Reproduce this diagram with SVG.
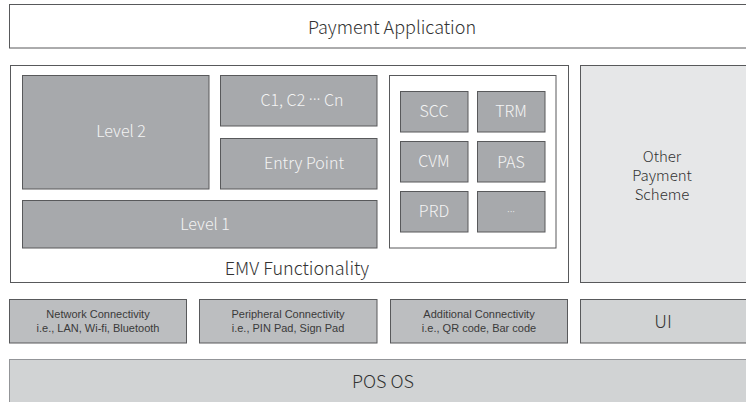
<svg xmlns="http://www.w3.org/2000/svg" width="746" height="402" viewBox="0 0 746 402">
<style>
text{font-family:"Noto Sans CJK KR","Noto Sans",sans-serif;font-weight:300;text-anchor:middle;dominant-baseline:central}
.dots{font-family:"Noto Sans","DejaVu Sans",sans-serif}
.white{fill:#ffffff;stroke:#58595b;stroke-width:1}
.dark{fill:#a7a9ac;stroke:#58595b;stroke-width:1}
.mid{fill:#bcbec0;stroke:#58595b;stroke-width:1}
.light{fill:#e6e7e8;stroke:#58595b;stroke-width:1}
.os{fill:#d1d3d4;stroke:#939598;stroke-width:1}
.tw{fill:#f4f4f4;font-size:16px}
.td{fill:#333333}
.l18{font-size:18px}
.l15{font-size:15px}
.l11{font-size:11px;font-family:"Liberation Sans",Arial,sans-serif;font-weight:400;fill:#3a3a3a}
</style>
<rect width="746" height="402" fill="#ffffff"/>
<g id="payment-application"><rect class="white" x="9.5" y="4.5" width="740" height="43.5"/><text class="td l18" x="392" y="26">Payment Application</text></g>
<g id="emv-functionality"><rect class="white" x="10.5" y="65.5" width="558" height="217"/><text class="td l18" x="297" y="267">EMV Functionality</text></g>
<g id="level2"><rect class="dark" x="22.5" y="75.5" width="186.5" height="113.5"/><text class="tw" x="121" y="130">Level 2</text></g>
<g id="c1c2cn"><rect class="dark" x="220.5" y="75.5" width="156.5" height="50.5"/><text class="tw" x="302" y="99">C1, C2 <tspan class="dots">···</tspan> Cn</text></g>
<g id="entry-point"><rect class="dark" x="220.5" y="138.5" width="156.5" height="50.5"/><text class="tw" x="304" y="162">Entry Point</text></g>
<g id="level1"><rect class="dark" x="22.5" y="200.5" width="354.5" height="47.5"/><text class="tw" x="205" y="223">Level 1</text></g>
<g id="kernel-box"><rect class="white" x="389.5" y="75.5" width="166.5" height="172.5"/></g>
<g id="scc"><rect class="dark" x="400.5" y="91.5" width="67.5" height="40.5"/><text class="tw" x="434" y="110">SCC</text></g>
<g id="trm"><rect class="dark" x="477.5" y="91.5" width="67.5" height="40.5"/><text class="tw" x="511" y="110">TRM</text></g>
<g id="cvm"><rect class="dark" x="400.5" y="141.5" width="67.5" height="40.5"/><text class="tw" x="434" y="160">CVM</text></g>
<g id="pas"><rect class="dark" x="477.5" y="141.5" width="67.5" height="40.5"/><text class="tw" x="511" y="161">PAS</text></g>
<g id="prd"><rect class="dark" x="400.5" y="191.5" width="67.5" height="40.5"/><text class="tw" x="434" y="210">PRD</text></g>
<g id="etc"><rect class="dark" x="477.5" y="191.5" width="67.5" height="40.5"/><text class="tw dots" x="511" y="210" style="font-size:11px">···</text></g>
<g id="other-payment-scheme"><rect class="light" x="580.5" y="65.5" width="170" height="217"/><text class="td l15" x="662" y="155">Other</text><text class="td l15" x="662" y="174">Payment</text><text class="td l15" x="662" y="193">Scheme</text></g>
<g id="network"><rect class="mid" x="9.5" y="299.5" width="177" height="43.5"/><text class="l11" x="98" y="314">Network Connectivity</text><text class="l11" x="98" y="328">i.e., LAN, Wi-fi, Bluetooth</text></g>
<g id="peripheral"><rect class="mid" x="199.5" y="299.5" width="177.5" height="43.5"/><text class="l11" x="288" y="314">Peripheral Connectivity</text><text class="l11" x="288" y="328">i.e., PIN Pad, Sign Pad</text></g>
<g id="additional"><rect class="mid" x="390.5" y="299.5" width="177" height="43.5"/><text class="l11" x="479" y="314">Additional Connectivity</text><text class="l11" x="479" y="328">i.e., QR code, Bar code</text></g>
<g id="ui"><rect class="os" style="stroke:#58595b" x="580.5" y="299.5" width="170" height="43.5"/><text class="td l18" x="663" y="320">UI</text></g>
<g id="pos-os"><rect class="os" x="9.5" y="359.5" width="740" height="50"/><text class="td l18" x="383" y="380">POS OS</text></g>
<g id="connectors"></g>
</svg>
